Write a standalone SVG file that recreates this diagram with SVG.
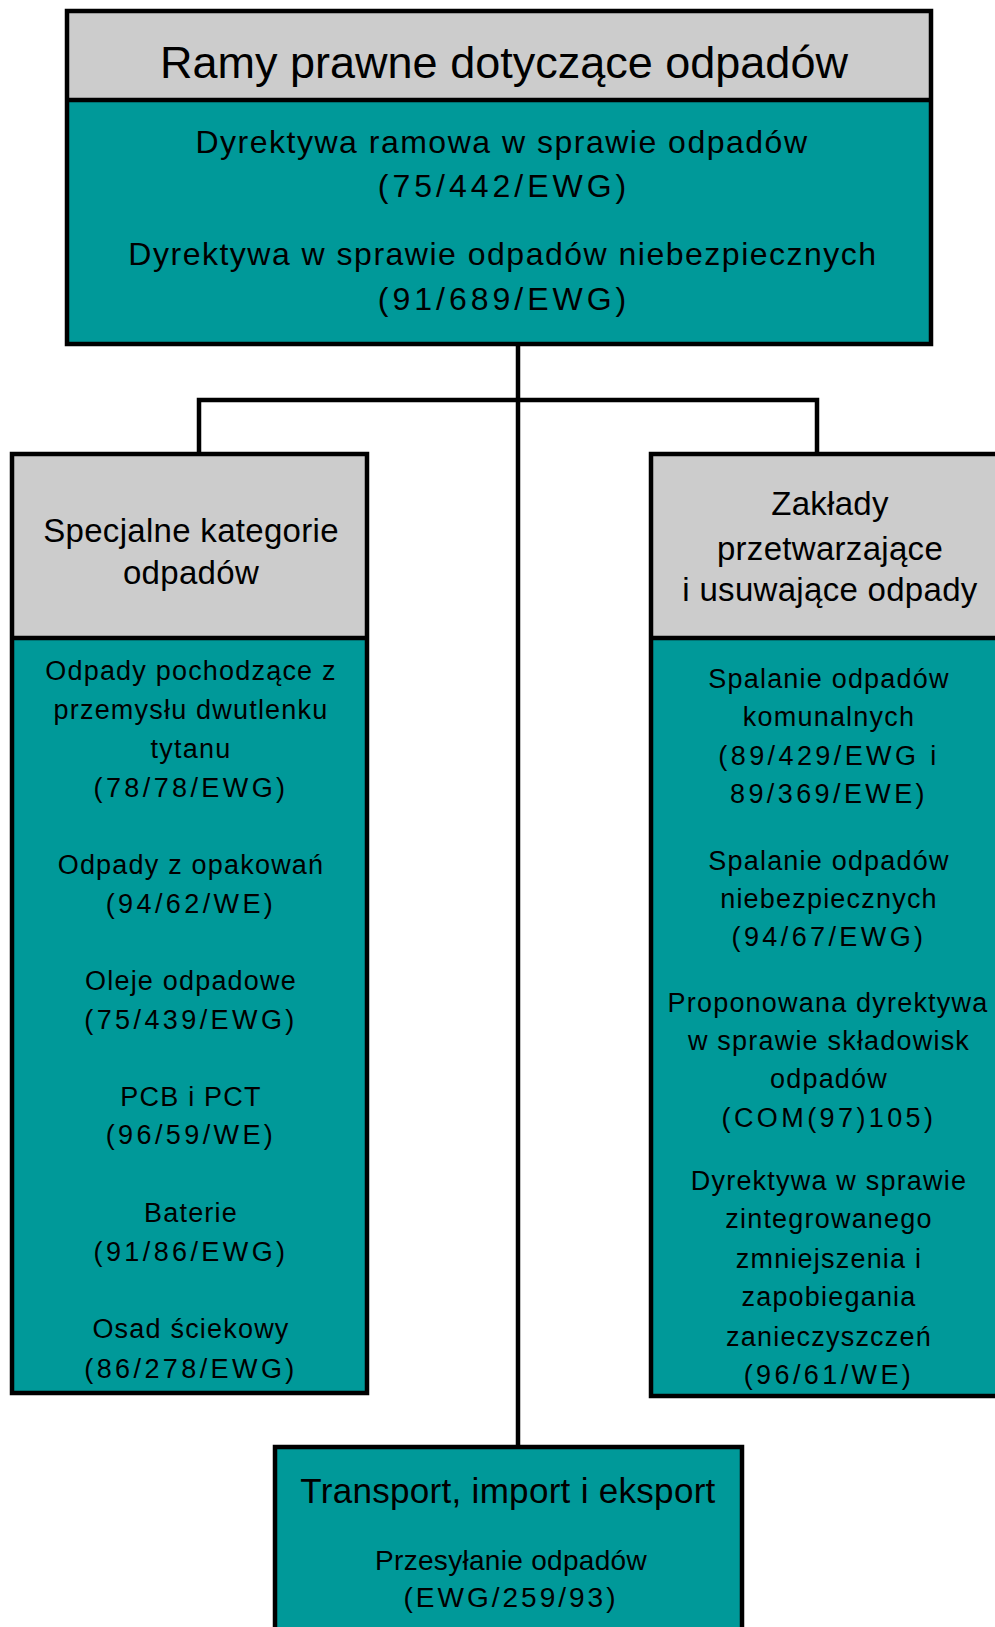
<svg xmlns="http://www.w3.org/2000/svg" width="995" height="1627" viewBox="0 0 995 1627">
<style>
.box{stroke:#000;stroke-width:4.5}
.teal{fill:#009999}
.gray{fill:#cccccc}
.div{stroke:#000;stroke-width:4.5}
.con{fill:none;stroke:#000;stroke-width:4.5}
text{font-family:"Liberation Sans",Arial,sans-serif;fill:#000;text-anchor:middle}
.title{font-size:45px}
.top{font-size:32px;letter-spacing:1.5px}
.topc{font-size:32px;letter-spacing:4px}
.hd{font-size:33px;letter-spacing:0.3px}
.b{font-size:27px;letter-spacing:1.2px}
.bc{font-size:27px;letter-spacing:3.4px}
.tr{font-size:35px;letter-spacing:0.3px}
.s{font-size:28px;letter-spacing:0.3px}
.sc{font-size:28px;letter-spacing:3px}
</style>
<rect width="995" height="1627" fill="#fff"/>
<g id="connectors">
<path class="con" d="M518,344 V1447"/>
<path class="con" d="M199,454 V400 H817 V454"/>
</g>
<g id="node-top">
<rect class="teal" x="67" y="11" width="864" height="333"/>
<rect class="gray" x="67" y="11" width="864" height="89"/>
<line class="div" x1="67" y1="100" x2="931" y2="100"/>
<rect class="box" x="67" y="11" width="864" height="333" fill="none"/>
<text class="title" x="504" y="78">Ramy prawne dotyczące odpadów</text>
<text class="top" x="502" y="153">Dyrektywa ramowa w sprawie odpadów</text>
<text class="topc" x="504" y="197">(75/442/EWG)</text>
<text class="top" x="503" y="265">Dyrektywa w sprawie odpadów niebezpiecznych</text>
<text class="topc" x="504" y="310">(91/689/EWG)</text>
</g>
<g id="node-left">
<rect class="teal" x="12" y="454" width="355" height="939"/>
<rect class="gray" x="12" y="454" width="355" height="184"/>
<line class="div" x1="12" y1="638" x2="367" y2="638"/>
<rect class="box" x="12" y="454" width="355" height="939" fill="none"/>
<text class="hd" x="191" y="542">Specjalne kategorie</text>
<text class="hd" x="191" y="584">odpadów</text>
<text class="b" x="191" y="680">Odpady pochodzące z</text>
<text class="b" x="191" y="719">przemysłu dwutlenku</text>
<text class="b" x="191" y="758">tytanu</text>
<text class="bc" x="191" y="797">(78/78/EWG)</text>
<text class="b" x="191" y="874">Odpady z opakowań</text>
<text class="bc" x="191" y="913">(94/62/WE)</text>
<text class="b" x="191" y="990">Oleje odpadowe</text>
<text class="bc" x="191" y="1029">(75/439/EWG)</text>
<text class="b" x="191" y="1106">PCB i PCT</text>
<text class="bc" x="191" y="1144">(96/59/WE)</text>
<text class="b" x="191" y="1222">Baterie</text>
<text class="bc" x="191" y="1261">(91/86/EWG)</text>
<text class="b" x="191" y="1338">Osad ściekowy</text>
<text class="bc" x="191" y="1378">(86/278/EWG)</text>
</g>
<g id="node-right">
<rect class="teal" x="651" y="454" width="358" height="942"/>
<rect class="gray" x="651" y="454" width="358" height="184"/>
<line class="div" x1="651" y1="638" x2="1009" y2="638"/>
<rect class="box" x="651" y="454" width="358" height="942" fill="none"/>
<text class="hd" x="830" y="515">Zakłady</text>
<text class="hd" x="830" y="560">przetwarzające</text>
<text class="hd" x="830" y="601">i usuwające odpady</text>
<text class="b" x="829" y="688">Spalanie odpadów</text>
<text class="b" x="829" y="726">komunalnych</text>
<text class="bc" x="829" y="765">(89/429/EWG i</text>
<text class="bc" x="829" y="803">89/369/EWE)</text>
<text class="b" x="829" y="870">Spalanie odpadów</text>
<text class="b" x="829" y="908">niebezpiecznych</text>
<text class="bc" x="829" y="946">(94/67/EWG)</text>
<text class="b" x="828" y="1012">Proponowana dyrektywa</text>
<text class="b" x="829" y="1050">w sprawie składowisk</text>
<text class="b" x="829" y="1088">odpadów</text>
<text class="bc" x="829" y="1127">(COM(97)105)</text>
<text class="b" x="829" y="1190">Dyrektywa w sprawie</text>
<text class="b" x="829" y="1228">zintegrowanego</text>
<text class="b" x="829" y="1268">zmniejszenia i</text>
<text class="b" x="829" y="1306">zapobiegania</text>
<text class="b" x="829" y="1346">zanieczyszczeń</text>
<text class="bc" x="829" y="1384">(96/61/WE)</text>
</g>
<g id="node-bottom">
<rect class="teal box" x="275" y="1447" width="467" height="200"/>
<text class="tr" x="508" y="1503">Transport, import i eksport</text>
<text class="s" x="511" y="1570">Przesyłanie odpadów</text>
<text class="sc" x="511" y="1607">(EWG/259/93)</text>
</g>
</svg>
